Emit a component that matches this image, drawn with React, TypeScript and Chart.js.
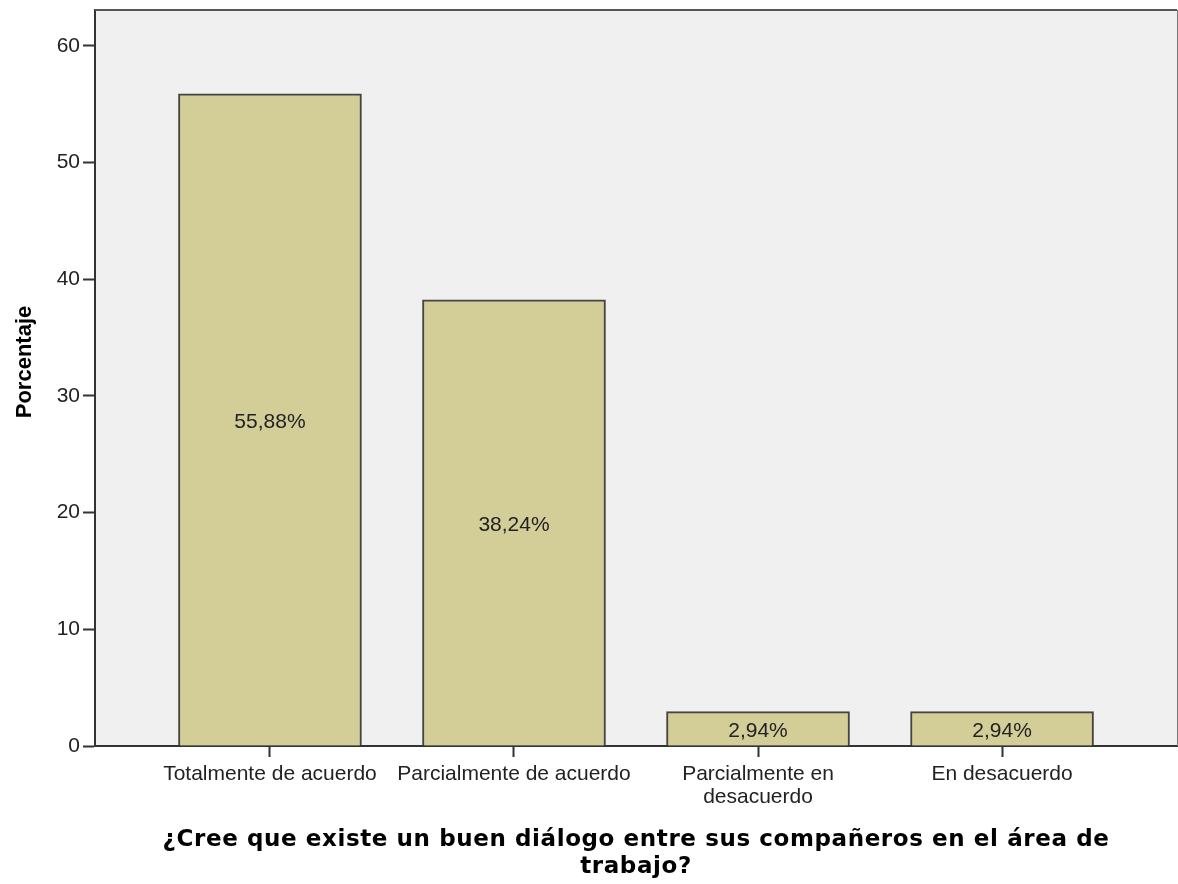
import React, { useEffect, useRef } from 'react';
import { Chart, registerables } from 'chart.js';

Chart.register(...registerables);

// ---- data ----
const categories: string[][] = [
  ['Totalmente de acuerdo'],
  ['Parcialmente de acuerdo'],
  ['Parcialmente en', 'desacuerdo'],
  ['En desacuerdo'],
];
const percentages: number[] = [55.88, 38.24, 2.94, 2.94];
const yTickValues: number[] = [0, 10, 20, 30, 40, 50, 60];
const xTitleLines: string[] = [
  '¿Cree que existe un buen diálogo entre sus compañeros en el área de',
  'trabajo?',
];
const yTitle = 'Porcentaje';

const SANS = '"Liberation Sans", Arial, sans-serif';
const VERD = '"DejaVu Sans", Verdana, sans-serif';

const framePlugin = {
  id: 'frame',
  beforeDraw(chart: any) {
    const { ctx, chartArea: a } = chart;
    ctx.save();
    ctx.fillStyle = '#F0F0F0';
    ctx.fillRect(a.left, a.top, a.right - a.left, a.bottom - a.top);
    ctx.restore();
  },
  afterDatasetsDraw(chart: any) {
    const { ctx } = chart;
    const meta = chart.getDatasetMeta(0);
    ctx.save();
    ctx.font = `21px ${SANS}`;
    ctx.fillStyle = '#222';
    ctx.textAlign = 'center';
    ctx.textBaseline = 'middle';
    meta.data.forEach((bar: any, i: number) => {
      const v = percentages[i];
      const label = v.toFixed(2).replace('.', ',') + '%';
      ctx.fillText(label, bar.x, (bar.y + bar.base) / 2 + 3);
    });
    ctx.restore();
  },
  afterDraw(chart: any) {
    const { ctx, chartArea: a } = chart;
    ctx.save();
    // top & right frame lines
    ctx.strokeStyle = '#555';
    ctx.lineWidth = 2;
    ctx.beginPath();
    ctx.moveTo(a.left, a.top);
    ctx.lineTo(a.right, a.top);
    ctx.stroke();
    ctx.lineWidth = 1;
    ctx.strokeStyle = '#777';
    ctx.beginPath();
    ctx.moveTo(a.right + 0.5, a.top);
    ctx.lineTo(a.right + 0.5, a.bottom);
    ctx.stroke();

    // y title
    ctx.fillStyle = '#000';
    ctx.font = `bold 22px ${SANS}`;
    ctx.textAlign = 'center';
    ctx.textBaseline = 'middle';
    ctx.save();
    ctx.translate(25, 362);
    ctx.rotate(-Math.PI / 2);
    ctx.fillText(yTitle, 0, 0);
    ctx.restore();

    // x title
    ctx.font = `bold 23px ${VERD}`;
    (ctx as any).letterSpacing = '0.6px';
    ctx.textBaseline = 'alphabetic';
    xTitleLines.forEach((line, i) => {
      ctx.fillText(line, 636, 846 + i * 27);
    });
    ctx.restore();
  },
};

export default function App() {
  const ref = useRef<HTMLCanvasElement | null>(null);

  useEffect(() => {
    if (!ref.current) return;
    const chart = new Chart(ref.current, {
      type: 'bar',
      data: {
        datasets: [
          {
            data: percentages.map((v, i) => ({ x: i, y: v })),
            backgroundColor: '#D3CE98',
            borderColor: '#444',
            borderWidth: 2,
            barThickness: 183,
          } as any,
        ],
      },
      options: {
        animation: false,
        responsive: false,
        layout: { padding: { top: 10, right: 1, left: 0, bottom: 0 } },
        plugins: {
          legend: { display: false },
          tooltip: { enabled: false },
          title: { display: false },
        },
        scales: {
          x: {
            type: 'linear',
            min: -0.717,
            max: 3.717,
            offset: false,
            afterBuildTicks: (s: any) => {
              s.ticks = categories.map((_, i) => ({ value: i }));
            },
            afterFit: (s: any) => {
              s.height = 138;
              s.paddingLeft = 0;
              s.paddingRight = 0;
            },
            ticks: {
              callback: (v: any) => categories[v as number] ?? '',
              font: { family: SANS, size: 21, lineHeight: 1.1 },
              color: '#222',
              padding: 6,
              maxRotation: 0,
              autoSkip: false,
            },
            grid: {
              offset: false,
              drawOnChartArea: false,
              tickLength: 11,
              tickWidth: 2,
              tickColor: '#333',
            },
            border: { color: '#333', width: 2 },
          },
          y: {
            min: 0,
            max: 63.07,
            afterBuildTicks: (s: any) => {
              s.ticks = yTickValues.map((v) => ({ value: v }));
            },
            afterFit: (s: any) => {
              s.width = 95;
              s.paddingTop = 0;
              s.paddingBottom = 0;
            },
            ticks: {
              font: { family: SANS, size: 21 },
              color: '#222',
              padding: 3,
            },
            grid: {
              drawOnChartArea: false,
              tickLength: 12,
              tickWidth: 2,
              tickColor: '#333',
            },
            border: { color: '#333', width: 2 },
          },
        } as any,
      },
      plugins: [framePlugin],
    });
    return () => chart.destroy();
  }, []);

  return (
    <div style={{ position: 'absolute', left: 0, top: 0, width: 1178, height: 884, background: '#fff' }}>
      <canvas ref={ref} width={1178} height={884} style={{ display: 'block' }} />
    </div>
  );
}
